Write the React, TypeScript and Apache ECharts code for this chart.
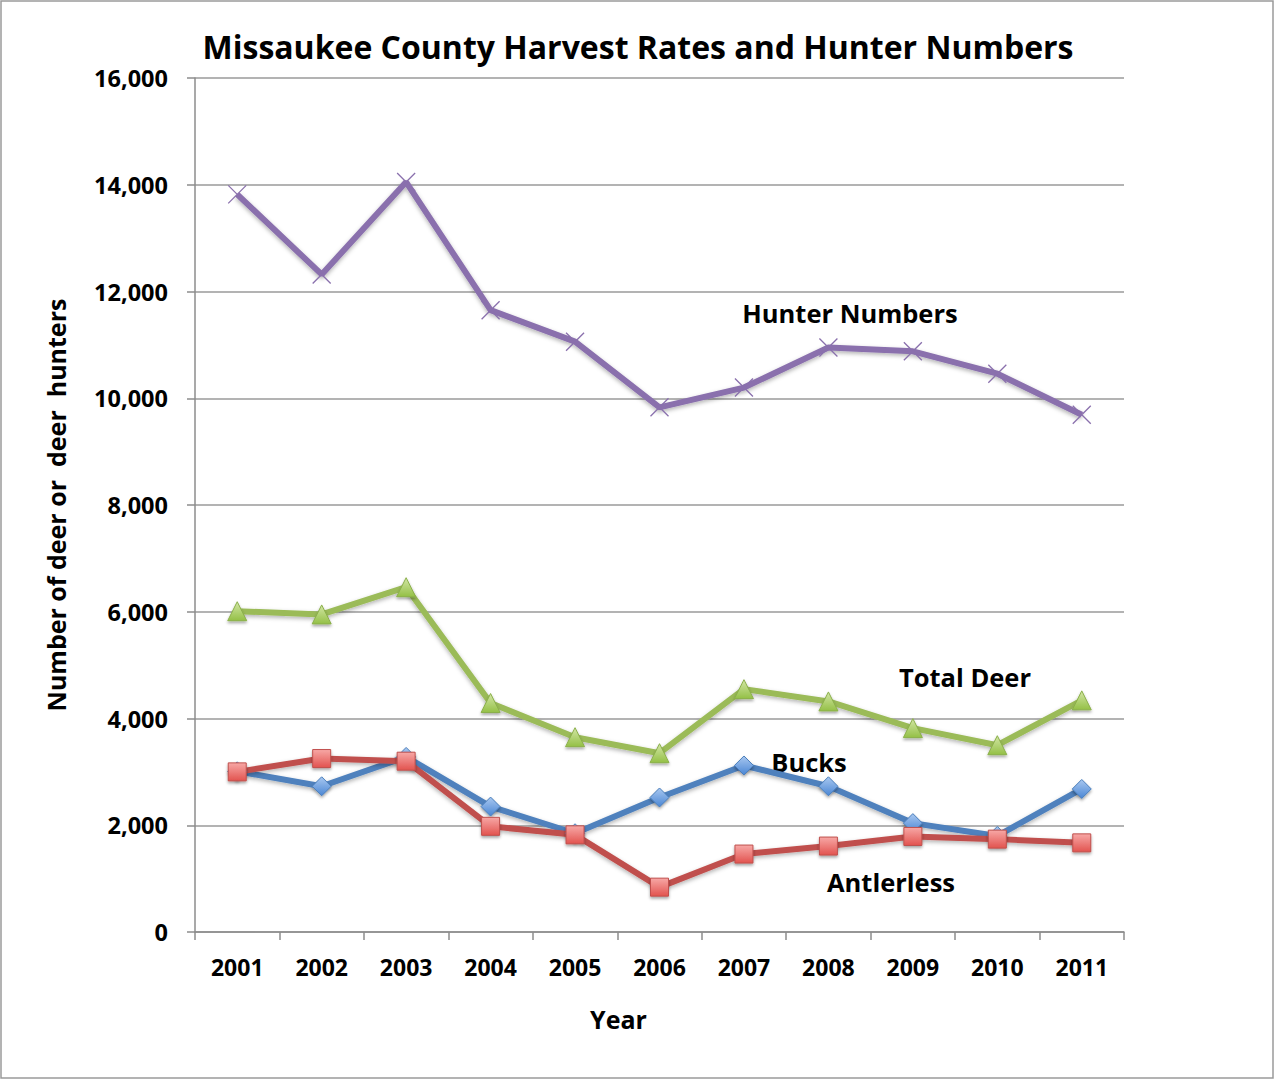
import React, { useEffect, useRef } from "react";
import * as echarts from "echarts";

const years = ["2001", "2002", "2003", "2004", "2005", "2006", "2007", "2008", "2009", "2010", "2011"];
const hunterNumbers = [13820, 12320, 14050, 11650, 11060, 9830, 10200, 10950, 10880, 10460, 9690];
const totalDeer = [6010, 5950, 6460, 4290, 3650, 3350, 4550, 4320, 3820, 3500, 4340];
const bucks = [3010, 2730, 3280, 2350, 1850, 2520, 3120, 2730, 2040, 1800, 2680];
const antlerless = [3000, 3250, 3200, 1980, 1820, 840, 1460, 1610, 1790, 1740, 1670];

const FONT = "'Open Sans', 'DejaVu Sans', sans-serif";

function grad(top: string, bottom: string) {
  return new echarts.graphic.LinearGradient(0, 0, 0, 1, [
    { offset: 0, color: top },
    { offset: 1, color: bottom },
  ]);
}

export default function App() {
  const ref = useRef<HTMLDivElement>(null);
  useEffect(() => {
    document.body.style.margin = "0";
    const chart = echarts.init(ref.current!, null, { renderer: "svg" });
    const lineShadow = { shadowBlur: 4, shadowColor: "rgba(0,0,0,0.3)", shadowOffsetY: 2 };
    const annot = (text: string, x: number, y: number) => ({
      type: "text",
      x,
      y,
      style: { text, fontFamily: FONT, fontWeight: "bold", fontSize: 25.5, fill: "#000", align: "center", verticalAlign: "middle" },
    });
    chart.setOption({
      animation: false,
      backgroundColor: "#ffffff",
      title: {
        text: "Missaukee County Harvest Rates and Hunter Numbers",
        left: "center",
        top: 25,
        textStyle: { fontFamily: FONT, fontWeight: "bold", fontSize: 32, color: "#000" },
      },
      grid: { left: 195, right: 152, top: 78, bottom: 148, containLabel: false },
      xAxis: {
        type: "category",
        data: years,
        boundaryGap: true,
        name: "Year",
        nameLocation: "middle",
        nameGap: 74,
        nameTextStyle: { fontFamily: FONT, fontWeight: "bold", fontSize: 25, color: "#000", padding: [0, 82, 0, 0] },
        axisLine: { lineStyle: { color: "#8c8c8c", width: 1.5 } },
        axisTick: { show: true, length: 8, alignWithLabel: false, lineStyle: { color: "#8c8c8c", width: 1.5 } },
        axisLabel: { margin: 23, fontFamily: FONT, fontWeight: "bold", fontSize: 23, color: "#000" },
        splitLine: { show: false },
      },
      yAxis: {
        type: "value",
        min: 0,
        max: 16000,
        interval: 2000,
        name: "Number of deer or  deer  hunters",
        nameLocation: "middle",
        nameGap: 127,
        nameRotate: 90,
        nameTextStyle: { fontFamily: FONT, fontWeight: "bold", fontSize: 25, color: "#000" },
        axisLine: { show: true, lineStyle: { color: "#8c8c8c", width: 1.5 } },
        axisTick: { show: true, length: 8, lineStyle: { color: "#8c8c8c", width: 1.5 } },
        axisLabel: {
          margin: 27,
          fontFamily: FONT,
          fontWeight: "bold",
          fontSize: 23.5,
          color: "#000",
          formatter: (v: number) => v.toLocaleString("en-US"),
        },
        splitLine: { show: true, lineStyle: { color: "#9a9a9a", width: 1.5 } },
      },
      series: [
        {
          name: "Hunter Numbers",
          type: "line",
          data: hunterNumbers,
          symbol: "path://M0,0L10,10M10,0L0,10",
          symbolSize: 18,
          lineStyle: { color: "#8a70ad", width: 6, ...lineShadow },
          itemStyle: { color: "#8a70ad", borderColor: "#8a70ad", borderWidth: 1.3 },
        },
        {
          name: "Total Deer",
          type: "line",
          data: totalDeer,
          symbol: "triangle",
          symbolSize: 19,
          lineStyle: { color: "#9bbb59", width: 6, ...lineShadow },
          itemStyle: {
            color: grad("#d3e6a6", "#94c046"),
            borderColor: "#8bb04a",
            borderWidth: 1,
            shadowBlur: 3,
            shadowColor: "rgba(0,0,0,0.35)",
            shadowOffsetY: 2,
          },
        },
        {
          name: "Bucks",
          type: "line",
          data: bucks,
          symbol: "diamond",
          symbolSize: 19,
          lineStyle: { color: "#4f81bd", width: 6, ...lineShadow },
          itemStyle: {
            color: grad("#a9c8f0", "#4a86d4"),
            borderColor: "#4a7ebb",
            borderWidth: 1,
            shadowBlur: 3,
            shadowColor: "rgba(0,0,0,0.35)",
            shadowOffsetY: 2,
          },
        },
        {
          name: "Antlerless",
          type: "line",
          data: antlerless,
          symbol: "rect",
          symbolSize: 18,
          lineStyle: { color: "#c0504d", width: 6, ...lineShadow },
          itemStyle: {
            color: grad("#f7a8a6", "#e2534f"),
            borderColor: "#c0504d",
            borderWidth: 1,
            shadowBlur: 3,
            shadowColor: "rgba(0,0,0,0.35)",
            shadowOffsetY: 2,
          },
        },
      ],
      graphic: [
        {
          type: "rect",
          shape: { x: 1, y: 1, width: 1272, height: 1077 },
          style: { fill: "none", stroke: "#9a9a9a", lineWidth: 1.5 },
          silent: true,
          z: -1,
        },
        annot("Hunter Numbers", 850, 313),
        annot("Total Deer", 965, 677),
        annot("Bucks", 809, 762),
        annot("Antlerless", 891, 882),
      ],
    });
    return () => chart.dispose();
  }, []);
  return <div ref={ref} style={{ width: 1276, height: 1080 }} />;
}
